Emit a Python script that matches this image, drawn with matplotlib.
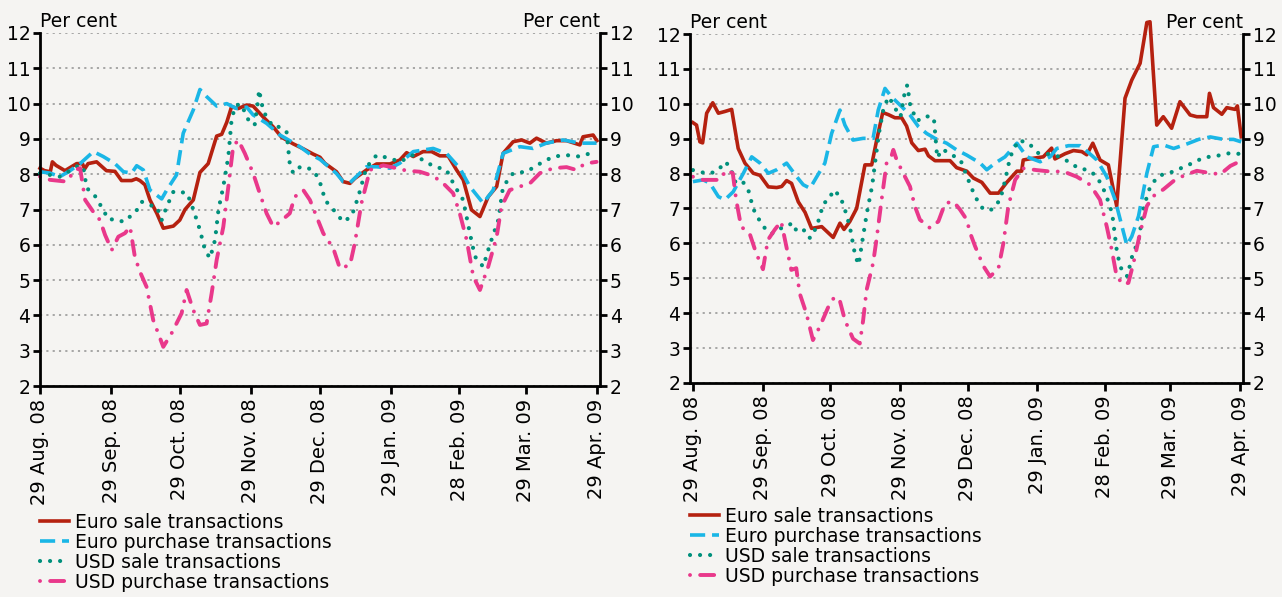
import datetime as dt
import numpy as np
import matplotlib
matplotlib.use("Agg")
import matplotlib.pyplot as plt
import matplotlib.dates as mdates

# days counted from 29 Aug 2008
START = dt.date(2008, 8, 29)

tick_dates = [dt.date(2008, 8, 29), dt.date(2008, 9, 29), dt.date(2008, 10, 29),
              dt.date(2008, 11, 29), dt.date(2008, 12, 29), dt.date(2009, 1, 29),
              dt.date(2009, 2, 28), dt.date(2009, 3, 29), dt.date(2009, 4, 29)]
tick_labels = ["29 Aug. 08", "29 Sep. 08", "29 Oct. 08", "29 Nov. 08", "29 Dec. 08",
               "29 Jan. 09", "28 Feb. 09", "29 Mar. 09", "29 Apr. 09"]
series_names = ["Euro sale transactions", "Euro purchase transactions",
                "USD sale transactions", "USD purchase transactions"]

# ---- left panel ----
left_eur_sale_days = [0, 2, 4.5, 5.4, 7, 10.9, 16, 18.5, 19.5, 21, 24.7, 29, 32.7, 35.6, 40,
                      42, 43.6, 45.8, 48, 51, 53.8, 58.2, 61, 63.3, 66.9, 69.8, 73.4, 77.1, 79.3, 81.5,
                      83.6, 86.5, 90.2, 93, 97.4, 101.8, 105.4, 110.5, 114.9, 119.2, 122.2, 124.3, 129.4, 132.3, 135.3,
                      137.4, 142.5, 146.9, 152.7, 157, 160, 162.9, 167.2, 170.9, 174.5, 178.1, 181.8, 184.7, 188.3, 192,
                      195.6, 199.3, 202.1, 206.5, 210.2, 213.8, 216.7, 221, 225.4, 229.8, 235.6, 237, 241.4, 243]
left_eur_sale = [8.17, 8.1, 8.07, 8.35, 8.25, 8.1, 8.3, 8.3, 8.15, 8.3, 8.35, 8.1, 8.08, 7.82, 7.82,
                 7.87, 7.82, 7.7, 7.27, 6.89, 6.47, 6.53, 6.7, 7.0, 7.27, 8.05, 8.3, 9.08, 9.13, 9.47,
                 9.91, 9.86, 9.96, 9.93, 9.62, 9.34, 9.05, 8.86, 8.72, 8.57, 8.48, 8.31, 8.07, 7.79, 7.74,
                 7.88, 8.12, 8.29, 8.29, 8.4, 8.61, 8.5, 8.64, 8.64, 8.52, 8.52, 8.12, 7.84, 6.99, 6.8,
                 7.36, 7.65, 8.59, 8.92, 8.97, 8.88, 9.02, 8.88, 8.95, 8.95, 8.83, 9.06, 9.11, 8.95]

left_eur_purch_days = [0, 4.4, 8.7, 13.1, 17.5, 23.3, 27.6, 32.7, 36.4, 40, 42.2, 45.1, 48, 53.1, 55.3,
                       59.6, 62.5, 66.9, 69.8, 72.7, 77.1, 81.5, 85.8, 90.2, 93, 98.9, 104.7, 109, 113.4, 117.8,
                       122.2, 129.4, 132.3, 135.3, 142.5, 146.9, 152.7, 157, 162.9, 171.6, 177.4, 183.2, 187.6, 193.4, 197.8,
                       202.1, 209.4, 215.2, 221, 228.3, 235.6, 240, 242.9]
left_eur_purch = [8.07, 8.03, 7.93, 8.1, 8.3, 8.64, 8.5, 8.3, 8.07, 8.03, 8.24, 8.12, 7.55, 7.3, 7.55,
                  7.98, 9.16, 9.82, 10.4, 10.2, 9.93, 10.0, 9.86, 9.9, 9.68, 9.44, 9.11, 8.95, 8.78, 8.57,
                  8.42, 8.02, 7.79, 7.76, 8.21, 8.21, 8.17, 8.31, 8.64, 8.73, 8.59, 8.17, 7.65, 7.18, 7.55,
                  8.59, 8.78, 8.73, 8.88, 8.97, 8.88, 8.88, 8.88]

left_usd_sale_days = [0, 4.4, 8.7, 13.1, 16.8, 18.9, 20.4, 23.3, 27.6, 29.8, 33.4, 36.4, 39.3, 41.4, 44.4,
                      47.3, 51, 53.1, 55.3, 58.2, 61, 63.3, 65.5, 68.4, 69.8, 72, 74.2, 76.4, 77.9, 80,
                      82.2, 83.6, 85.1, 87.2, 89.4, 91.6, 93.7, 95.2, 95.6, 97.4, 98.9, 101.8, 104.7, 107.6, 109,
                      110.5, 113.4, 116.3, 119.9, 122.9, 124.3, 128, 132.3, 136, 138.9, 142.5, 146.9, 152.7, 157, 162.9,
                      167.2, 171.6, 177.4, 181.1, 184.7, 187.6, 189.8, 193.4, 196.3, 200, 202.1, 206.5, 212.3, 218.2, 224,
                      229.8, 235.6, 240, 242.9]
left_usd_sale = [8.03, 7.98, 7.93, 8.1, 8.25, 8.2, 7.6, 7.46, 6.99, 6.72, 6.72, 6.65, 6.8, 6.89, 7.22,
                 7.13, 7.08, 6.7, 7.08, 7.5, 7.46, 7.5, 7.27, 6.7, 6.42, 5.85, 5.62, 6.14, 7.0, 7.65,
                 8.5, 9.54, 9.91, 10.0, 9.77, 9.44, 9.4, 10.1, 10.39, 9.8, 9.62, 9.34, 9.34, 9.2, 8.3,
                 8.03, 8.2, 8.2, 8.07, 7.65, 7.27, 7.0, 6.65, 6.81, 7.36, 8.2, 8.54, 8.45, 8.35, 8.54,
                 8.4, 8.23, 8.12, 7.65, 7.27, 6.33, 5.67, 5.38, 6.0, 6.7, 7.65, 8.03, 8.07, 8.3, 8.5,
                 8.54, 8.5, 8.59, 8.5]

left_usd_purch_days = [0, 4.4, 11.6, 15.3, 17.5, 19.7, 23.3, 26.2, 28.4, 31.3, 34.2, 37.1, 39.3, 41.4, 43.6,
                       46.5, 49.4, 53.8, 57.4, 61.8, 64, 66.9, 69.8, 72.7, 74.9, 77.1, 80, 82.2, 84.3, 86.5,
                       89.4, 93, 95.9, 98.9, 101.8, 104.7, 109, 111.2, 114.9, 117.8, 123.6, 128, 130.9, 135.3, 137.4,
                       140.3, 144, 149.8, 155.6, 160, 165.8, 171.6, 176, 180.3, 183.2, 186.2, 189.1, 192, 195.6, 199.3,
                       201.4, 205, 209.4, 213.8, 218.2, 224, 229.8, 234.1, 237.8, 242.9]
left_usd_purch = [7.93, 7.84, 7.79, 8.12, 8.17, 7.27, 6.93, 6.7, 6.28, 5.85, 6.23, 6.33, 6.51, 5.66, 5.24,
                  4.81, 3.87, 3.11, 3.49, 4.06, 4.72, 4.15, 3.73, 3.77, 4.62, 5.57, 6.51, 7.65, 8.78, 8.97,
                  8.59, 8.03, 7.46, 6.89, 6.51, 6.65, 6.89, 7.36, 7.55, 7.27, 6.33, 5.9, 5.33, 5.43, 6.05,
                  7.18, 8.12, 8.25, 8.17, 8.1, 8.07, 7.95, 7.74, 7.46, 6.89, 6.14, 5.1, 4.72, 5.38, 6.23,
                  7.08, 7.55, 7.65, 7.74, 8.03, 8.17, 8.2, 8.12, 8.3, 8.35]

# ---- right panel ----
right_eur_sale_days = [0, 1.6, 3.1, 4.3, 6.1, 8.8, 11.3, 14.2, 17.2, 20.1, 23.1, 26.8, 29.8, 33.5, 37.2,
                       39.4, 41.6, 43.8, 46.8, 49.8, 52.7, 57.2, 62.3, 65.3, 67.1, 69.7, 72.7, 76.4, 79.4, 81.6,
                       84.3, 86.8, 89.7, 92.7, 94.9, 97.2, 100.1, 103.1, 104.6, 107.5, 110.5, 114.2, 117.1, 121.6, 124.6,
                       128.3, 132, 135.7, 139.4, 143.9, 146, 146.7, 151.2, 155.6, 159.3, 160.8, 165.3, 169, 172.7, 174.9,
                       177.6, 180.8, 184.5, 188.2, 191.9, 194.9, 198.6, 201.6, 203, 206, 208.9, 212.6, 216.3, 220.8, 223.8,
                       228.2, 229.4, 231.2, 234.9, 237.1, 240.8, 241.8, 243.5]
right_eur_sale = [9.46, 9.39, 8.91, 8.88, 9.73, 10.03, 9.73, 9.78, 9.84, 8.72, 8.3, 8.01, 7.95, 7.62, 7.6,
                  7.63, 7.8, 7.72, 7.19, 6.89, 6.43, 6.48, 6.17, 6.58, 6.4, 6.63, 7.0, 8.25, 8.25, 8.96,
                  9.75, 9.69, 9.6, 9.6, 9.36, 8.88, 8.66, 8.7, 8.51, 8.37, 8.37, 8.37, 8.17, 8.07, 7.87,
                  7.75, 7.44, 7.44, 7.75, 8.07, 8.07, 8.39, 8.44, 8.48, 8.73, 8.42, 8.57, 8.66, 8.63, 8.54,
                  8.87, 8.39, 8.25, 7.07, 10.16, 10.68, 11.16, 12.33, 12.35, 9.39, 9.63, 9.3, 10.06, 9.68, 9.63,
                  9.63, 10.3, 9.89, 9.7, 9.89, 9.84, 9.94, 9.06]

right_eur_purch_days = [0, 4.6, 7.6, 11.3, 14.2, 17.9, 22.4, 26.1, 29.8, 33.5, 37.2, 41.6, 46.1, 49, 52,
                        55, 58.6, 61.6, 65.3, 67.5, 71.1, 75.6, 80, 82.3, 85.3, 88.2, 92.7, 96.4, 100.1, 103.8,
                        107.5, 112.7, 117.1, 121.6, 127.6, 130.5, 134.2, 138.6, 143.9, 148.3, 154.2, 158.6, 161.6, 166.8, 172,
                        175.7, 179.4, 183.8, 187.5, 190.5, 192.7, 194.9, 197.9, 201.6, 204.6, 209, 213.5, 219.4, 224.6, 229.8,
                        235.7, 240.1, 243.5]
right_eur_purch = [7.77, 7.82, 7.72, 7.34, 7.25, 7.48, 8.01, 8.48, 8.3, 8.01, 8.11, 8.3, 7.91, 7.68, 7.58,
                   7.91, 8.3, 9.15, 9.82, 9.39, 8.96, 9.01, 9.01, 9.82, 10.44, 10.2, 9.92, 9.68, 9.35, 9.15,
                   9.01, 8.87, 8.68, 8.53, 8.3, 8.11, 8.3, 8.48, 8.87, 8.48, 8.34, 8.48, 8.72, 8.8, 8.8,
                   8.6, 8.39, 7.91, 7.25, 6.5, 5.95, 6.2, 6.78, 8.01, 8.77, 8.82, 8.72, 8.85, 8.98, 9.05,
                   8.98, 8.98, 8.91]

right_usd_sale_days = [0, 4.5, 7.6, 11.3, 14.2, 16.5, 18.7, 21.6, 24.6, 26.8, 29.1, 32.1, 35, 38.7, 41.6,
                       44.6, 46.1, 49.8, 52, 55, 58, 60.2, 62.5, 65.5, 68.4, 69.9, 72.1, 73.6, 75.1, 77.3,
                       79.6, 81.1, 82.6, 84.8, 87.1, 89.3, 92.2, 94, 95.2, 96.6, 99.6, 103.3, 107, 108.5, 110.7,
                       114.5, 118.9, 122.3, 125.3, 129, 132.7, 136.5, 138.7, 140.9, 144.6, 149.1, 153.5, 158, 162.4, 166.9,
                       171.3, 175.8, 179.5, 183.2, 186.2, 188.4, 190.6, 192.9, 195.1, 198, 200.3, 203.2, 206.9, 212.1, 219.5,
                       226.9, 232.8, 238.7, 243.5]
right_usd_sale = [8.1, 8.03, 8.0, 8.1, 8.34, 8.2, 7.77, 7.82, 7.53, 6.99, 6.71, 6.42, 6.28, 6.42, 6.51,
                  6.58, 6.33, 6.38, 6.15, 6.48, 7.15, 7.24, 7.53, 7.34, 6.79, 6.4, 5.64, 5.39, 6.01, 6.89,
                  7.65, 8.42, 9.15, 9.92, 10.2, 9.92, 9.63, 10.3, 10.54, 9.92, 9.51, 9.65, 9.6, 8.45, 8.7,
                  8.56, 8.38, 7.82, 7.34, 6.97, 6.97, 7.25, 7.82, 8.48, 8.96, 8.87, 8.58, 8.56, 8.49, 8.34,
                  8.15, 8.1, 7.91, 7.44, 6.86, 5.71, 5.19, 5.06, 5.64, 6.11, 7.07, 7.65, 7.94, 8.03, 8.23,
                  8.46, 8.51, 8.59, 8.56]

right_usd_purch_days = [0, 4.5, 11.9, 14.8, 17.7, 19.2, 21.4, 25.2, 28.1, 31.1, 33.3, 36.3, 39.2, 41.5, 43.7,
                        45.9, 47.4, 50.4, 53.3, 56.3, 60.8, 63, 65.2, 67.5, 71.1, 74.1, 75.6, 77.1, 80, 81.5,
                        83.8, 86, 88.3, 89, 90.5, 93.4, 96.4, 98.6, 100.8, 105.3, 109, 112, 115.7, 118.6, 121.6,
                        123.1, 125.3, 129, 132, 135.7, 137.9, 140.1, 143.1, 146.8, 152.7, 158.6, 164.6, 170.5, 176.4, 180.8,
                        183.8, 186, 188.2, 191.2, 193.4, 195.7, 198.6, 201.6, 204.6, 209, 213.5, 217.9, 223.8, 228.3, 234.2,
                        238.7, 243.5]
right_usd_purch = [7.91, 7.82, 7.82, 8.1, 8.01, 7.25, 6.48, 6.28, 5.72, 5.26, 6.1, 6.39, 6.63, 5.91, 5.24,
                   5.29, 4.57, 3.99, 3.23, 3.61, 4.28, 4.47, 4.37, 3.8, 3.27, 3.13, 3.8, 4.66, 5.43, 6.1,
                   7.25, 8.3, 8.53, 8.68, 8.39, 8.01, 7.63, 7.06, 6.68, 6.44, 6.63, 7.15, 7.2, 6.97, 6.68,
                   6.3, 5.92, 5.35, 5.05, 5.29, 6.01, 7.07, 7.82, 8.15, 8.1, 8.06, 8.06, 7.91, 7.68, 7.25,
                   6.48, 5.82, 5.05, 4.82, 4.87, 5.45, 6.3, 7.07, 7.36, 7.55, 7.79, 7.94, 8.08, 8.03, 7.98,
                   8.22, 8.37]

BG = "#f5f4f2"
styles = [
    dict(color="#b52110", lw=2.6, ls="-"),
    dict(color="#1ab6e6", lw=2.6, ls=(0, (4.2, 1.9))),
    dict(color="#00907c", lw=3.0, ls=(0, (0.01, 2.4)), dash_capstyle="round"),
    dict(color="#e9388b", lw=2.8, ls=(6.2, (3.6, 2.6, 0.01, 2.6)), dash_capstyle="round"),
]

base = mdates.date2num(START)
tick_pos = mdates.date2num(tick_dates)

plt.rcParams["font.family"] = "DejaVu Sans"
fig = plt.figure(figsize=(12.82, 5.97), dpi=100, facecolor=BG)


def draw_panel(rect, xlim, data, legend_xy):
    ax = fig.add_axes(rect)
    ax.set_facecolor(BG)
    lines = []
    for (days, vals), st, name in zip(data, styles, series_names):
        ln, = ax.plot(base + np.array(days), vals, label=name, clip_on=False, **st)
        lines.append(ln)
    ax.set_ylim(2, 12)
    ax.set_yticks(range(2, 13))
    ax.set_xlim(base + xlim[0], base + xlim[1])
    ax.set_xticks(tick_pos)
    ax.set_xticklabels(tick_labels, rotation=90, fontsize=14)
    ax.yaxis.grid(True, color="#a0a0a0", lw=1.3, ls=(0, (1.2, 2.3)))
    ax.set_axisbelow(True)
    for s in ("left", "right", "bottom"):
        ax.spines[s].set_linewidth(2.0)
    ax.spines["top"].set_visible(False)
    ax.tick_params(axis="y", which="both", left=True, right=True, labelleft=True,
                   labelright=True, labelsize=13.5, length=5, width=2.0, pad=2)
    ax.tick_params(axis="x", length=6, width=2.0, pad=3)
    ax.text(0, 1.005, "Per cent", transform=ax.transAxes, ha="left", va="bottom", fontsize=13.5)
    ax.text(1, 1.005, "Per cent", transform=ax.transAxes, ha="right", va="bottom", fontsize=13.5)
    fig.legend(handles=lines, loc="upper left", bbox_to_anchor=legend_xy,
               bbox_transform=fig.transFigure, frameon=False, fontsize=13.5,
               handlelength=1.55, handletextpad=0.32, labelspacing=0.05,
               borderpad=0, borderaxespad=0)
    return ax


draw_panel([40 / 1282, 1 - 386 / 597, 560 / 1282, 353 / 597], (0, 244.4),
           [(left_eur_sale_days, left_eur_sale), (left_eur_purch_days, left_eur_purch),
            (left_usd_sale_days, left_usd_sale), (left_usd_purch_days, left_usd_purch)],
           (40 / 1282, 1 - 513 / 597))
draw_panel([690 / 1282, 1 - 383 / 597, 553 / 1282, 349 / 597], (-1.3, 244.3),
           [(right_eur_sale_days, right_eur_sale), (right_eur_purch_days, right_eur_purch),
            (right_usd_sale_days, right_usd_sale), (right_usd_purch_days, right_usd_purch)],
           (690 / 1282, 1 - 507 / 597))

fig.savefig("out.png", dpi=100, facecolor=BG)
